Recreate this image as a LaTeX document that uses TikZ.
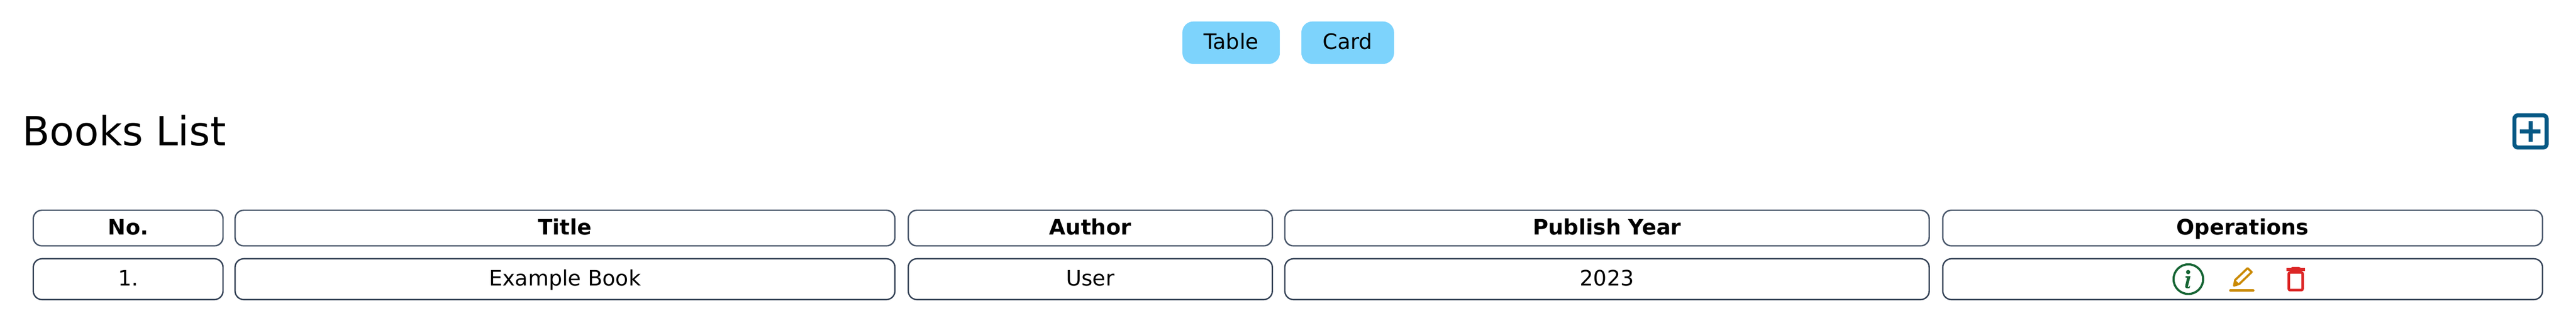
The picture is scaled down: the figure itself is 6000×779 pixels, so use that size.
\documentclass[tikz,border=0pt]{standalone}
\usepackage{fontspec}
\setmainfont{DejaVu Sans}
\usetikzlibrary{positioning}
\definecolor{btnblue}{HTML}{7DD3FC}
\definecolor{headline}{HTML}{475569}
\definecolor{rowline}{HTML}{334155}
\definecolor{addblue}{HTML}{075985}
\definecolor{infogreen}{HTML}{166534}
\definecolor{editgold}{HTML}{CA8A04}
\definecolor{trashred}{HTML}{DC2626}
\tikzset{
    btn/.style={fill=btnblue,rounded corners=2.6pt,inner sep=0pt,minimum height=9.9pt,
        text height=3.6pt,text depth=.5pt,font=\fontsize{4.95}{6}\selectfont},
    cell/.style={draw,line width=.32pt,rounded corners=2pt,inner sep=0pt,
        text height=3.6pt,text depth=.5pt,font=\fontsize{4.95}{6}\selectfont},
    headcell/.style={cell,draw=headline,minimum height=8.3pt,
        font=\fontsize{4.95}{6}\selectfont\bfseries},
    rowcell/.style={cell,draw=rowline,minimum height=9.5pt}
}
\begin{document}
\begin{tikzpicture}[x=.1pt,y=-.1pt]
    \useasboundingbox (0,0) rectangle (6000,779);
    % Switch buttons
    \node (tablebtn) at (2867.5,99.5) [btn,minimum width=22.7pt] {Table};
    \node (cardbtn) at (3139,99.5) [btn,minimum width=21.6pt] {Card};
    % Heading
    \node (booktitle) at (50,304) [anchor=west,inner sep=0pt,font=\fontsize{9.35}{11}\selectfont] {Books List};
    % Add icon
    \draw [addblue,line width=.93pt,rounded corners=.8pt] (5856.5,268.5) rectangle (5931.5,343.5);
    \fill [addblue] (5869.5,301) rectangle (5917.5,310.5);
    \fill [addblue] (5889,282) rectangle (5898.5,329.5);
    % Header row
    \node (headno) at (298.5,531) [headcell,minimum width=44.2pt] {No.};
    \node (headtitle) at (1316,531) [headcell,minimum width=153.7pt] {Title};
    \node (headauthor) at (2539.5,531) [headcell,minimum width=84.8pt] {Author};
    \node (headyear) at (3743,531) [headcell,minimum width=150.1pt] {Publish Year};
    \node (headops) at (5223.5,531) [headcell,minimum width=139.7pt] {Operations};
    % Book row
    \node (rowno) at (298.5,650) [rowcell,minimum width=44.2pt] {1.};
    \node (rowtitle) at (1316,650) [rowcell,minimum width=153.7pt] {Example Book};
    \node (rowauthor) at (2539.5,650) [rowcell,minimum width=84.8pt] {User};
    \node (rowyear) at (3743,650) [rowcell,minimum width=150.1pt] {2023};
    \node (rowops) at (5223.5,650) [rowcell,minimum width=139.7pt] {};
    % Info icon
    \draw [infogreen,line width=.5pt] (5097,650) circle (34.5);
    \fill [infogreen] (5096.5,633.5) circle (5);
    \fill [infogreen] (5091,643) -- (5102,643) -- (5096,667) .. controls (5095,670) and (5098,669) .. (5101,665)
        -- (5100,671) .. controls (5094,672) and (5088,672) .. (5090,664) -- (5094,647) -- (5090,646) -- cycle;
    % Edit icon
    \draw [editgold,line width=.5pt,line join=round] (5203.5,665) -- (5206,652) -- (5235,624.5) -- (5244.5,633.5) -- (5216,661) -- cycle;
    \fill [editgold] (5203.5,665) -- (5206,652) -- (5216,661) -- cycle;
    \draw [editgold,line width=.6pt,line cap=round] (5195,676.5) -- (5248,676.5);
    % Delete icon
    \fill [trashred] (5325,624.5) -- (5369,624.5) -- (5369,631) -- (5325,631) -- cycle;
    \fill [trashred] (5335,624.5) -- (5339,621.5) -- (5355,621.5) -- (5360,624.5) -- cycle;
    \draw [trashred,line width=.6pt,rounded corners=.3pt] (5331,634.5) -- (5331,675.5) -- (5363,675.5) -- (5363,634.5) -- cycle;
\end{tikzpicture}
\end{document}
